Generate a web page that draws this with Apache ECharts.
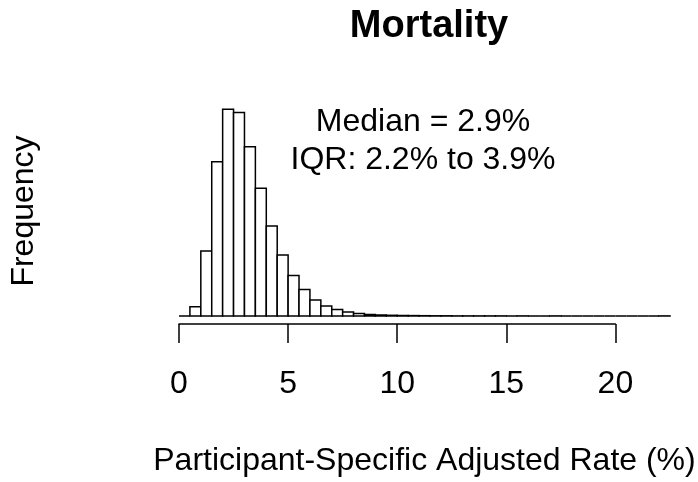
<!DOCTYPE html>
<html>
<head>
<meta charset="utf-8">
<script src="https://cdn.jsdelivr.net/npm/echarts@6/dist/echarts.min.js"></script>
<style>
  html, body { margin: 0; padding: 0; background: #fff; }
  #main { width: 698px; height: 482px; }
</style>
</head>
<body>
<div id="main"></div>
<script>
// histogram bins, width 0.5 from 0 to 22.5
const BIN_WIDTH = 0.5
const binCounts = [
  0, 93, 650, 1543, 2067, 2035, 1693, 1277, 900, 610,
  405, 265, 160, 100, 65, 40, 25, 15, 10, 7,
  5, 4, 3, 2, 2, 1, 1, 1, 1, 1,
  0, 1, 0, 0, 1, 0, 0, 0, 0, 0,
  0, 0, 0, 0, 1
]
const tickValues = [0, 5, 10, 15, 20]
const statLines = ['Median = 2.9%', 'IQR: 2.2% to 3.9%']

const FONT = "'Liberation Sans', Arial, sans-serif"

// [start, end, count]
let histData = binCounts.map((c, i) => [i * BIN_WIDTH, (i + 1) * BIN_WIDTH, c])

let renderBin = (params, api) => {
  let p0 = api.coord([api.value(0), 0])
  let p1 = api.coord([api.value(1), api.value(2)])
  return {
    type: 'rect',
    shape: { x: p0[0], y: p1[1], width: p1[0] - p0[0], height: p0[1] - p1[1] },
    style: { fill: '#fff', stroke: '#000', lineWidth: 1.5 }
  }
}

let chart = echarts.init(document.getElementById('main'))

let opts = {
  animation: false,
  title: {
    text: 'Mortality',
    left: 424,
    textAlign: 'center',
    top: 3,
    textStyle: { fontFamily: FONT, fontSize: 38, fontWeight: 'bold', color: '#000' }
  },
  grid: [
    // histogram area (0 to 22.5)
    { left: 179, right: 28, top: 106, bottom: 166 },
    // axis only spans 0 to 20, like R
    { left: 179, width: 436.4, top: 106, bottom: 158 }
  ],
  xAxis: [
    {
      gridIndex: 0, type: 'value', min: 0, max: 22.5,
      axisLine: { show: false }, axisTick: { show: false },
      axisLabel: { show: false }, splitLine: { show: false },
      name: 'Participant-Specific Adjusted Rate (%)',
      nameLocation: 'middle',
      nameGap: 129,
      nameTextStyle: { fontFamily: FONT, fontSize: 32, color: '#000' }
    },
    {
      gridIndex: 1, type: 'value', min: 0, max: 20, interval: 5,
      axisLine: { show: true, lineStyle: { color: '#000', width: 1.5 } },
      axisTick: { show: true, length: 19, lineStyle: { color: '#000', width: 1.5 } },
      axisLabel: { margin: 44, fontFamily: FONT, fontSize: 32, color: '#000' },
      splitLine: { show: false }
    }
  ],
  yAxis: [
    {
      gridIndex: 0, type: 'value', min: 0, max: 2100,
      axisLine: { show: false }, axisTick: { show: false },
      axisLabel: { show: false }, splitLine: { show: false },
      name: 'Frequency',
      nameLocation: 'middle',
      nameGap: 139,
      nameTextStyle: { fontFamily: FONT, fontSize: 32, color: '#000' }
    },
    { gridIndex: 1, type: 'value', show: false }
  ],
  graphic: statLines.map((t, i) => ({
    type: 'text',
    x: 423,
    y: 122 + i * 38,
    style: {
      text: t,
      font: '32px ' + FONT,
      fill: '#000',
      textAlign: 'center',
      textVerticalAlign: 'middle'
    }
  })),
  series: [
    {
      type: 'custom',
      xAxisIndex: 0,
      yAxisIndex: 0,
      renderItem: renderBin,
      encode: { x: [0, 1], y: 2 },
      data: histData,
      clip: false
    }
  ]
}

chart.setOption(opts)
</script>
</body>
</html>
